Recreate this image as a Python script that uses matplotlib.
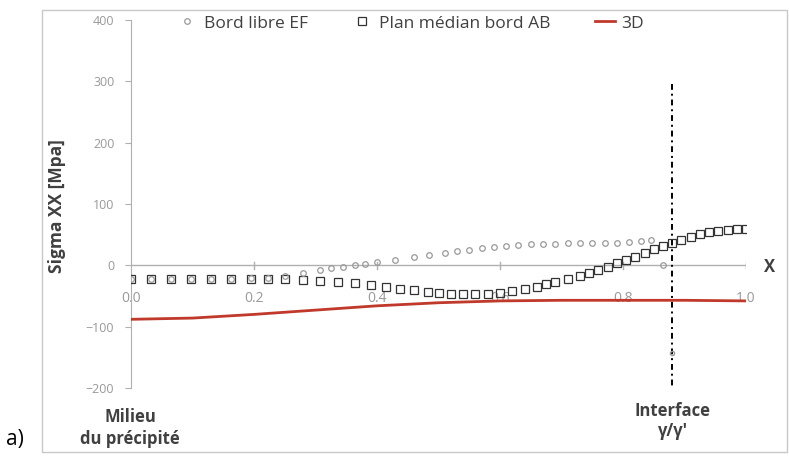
import matplotlib.pyplot as plt
from matplotlib.patches import Rectangle

plt.rcParams['font.family'] = ['Open Sans', 'DejaVu Sans']

# Bord libre EF (free edge)
ef_x = [0.0, 0.033, 0.065, 0.098, 0.13, 0.163, 0.195, 0.223, 0.25, 0.28,
        0.307, 0.325, 0.345, 0.365, 0.38, 0.4, 0.43, 0.46, 0.485, 0.51,
        0.53, 0.55, 0.57, 0.59, 0.61, 0.63, 0.65, 0.67, 0.69, 0.71,
        0.73, 0.75, 0.77, 0.79, 0.81, 0.83, 0.845, 0.865]
ef_y = [-22, -22, -22, -22, -22, -22, -21, -20, -17, -13,
        -8, -5, -3, 0, 2, 5, 9, 13, 17, 20,
        23, 25, 28, 30, 32, 33, 34, 35, 35, 36,
        36, 36, 36, 37, 38, 40, 41, 0]

# Plan median bord AB
ab_x = [0.0, 0.033, 0.065, 0.098, 0.13, 0.163, 0.195, 0.223, 0.25, 0.28,
        0.307, 0.337, 0.364, 0.39, 0.415, 0.437, 0.46, 0.483, 0.5, 0.52,
        0.54, 0.56, 0.58, 0.6, 0.62, 0.64, 0.66, 0.675, 0.69, 0.71,
        0.73, 0.745, 0.76, 0.775, 0.79, 0.805, 0.82, 0.835, 0.85, 0.865,
        0.88, 0.895, 0.91, 0.925, 0.94, 0.955, 0.97, 0.985, 1.0]
ab_y = [-22, -22, -22, -22, -22, -22, -22, -22, -23, -24,
        -25, -27, -29, -32, -35, -38, -41, -43, -45, -46,
        -47, -47, -46, -45, -42, -39, -35, -31, -27, -22,
        -17, -12, -7, -2, 3, 8, 14, 20, 26, 31,
        36, 42, 47, 51, 54, 56, 58, 59, 59]

# 3D
d3_x = [0.0, 0.1, 0.2, 0.3, 0.4, 0.5, 0.6, 0.7, 0.8, 0.9, 1.0]
d3_y = [-88, -86, -80, -73, -66, -61, -58, -57, -57, -57, -58]

# interface line
iface_x = [0.88, 0.88]
iface_y = [295, -200]

x_ticks = [0.0, 0.2, 0.4, 0.6, 0.8, 1.0]
y_ticks = [-200, -100, 0, 100, 200, 300, 400]

fig = plt.figure(figsize=(7.89, 4.57), dpi=100)
ax = fig.add_axes([131/789, 1-388/457, (746-131)/789, (388-20)/457])

ax.plot(iface_x, iface_y, color='black', ls=(0, (3, 2, 1, 2)), lw=1.4)
ax.plot([0.88], [-143], 'o', ms=3, mfc='none', mec='#999999')
ax.plot(d3_x, d3_y, color='#c0392b', lw=2, label='3D', zorder=3)
ax.plot(ab_x, ab_y, 's', ms=6, mfc='none', mec='#333333', mew=0.9,
        label='Plan médian bord AB', zorder=4)
ax.plot(ef_x, ef_y, 'o', ms=4, mfc='none', mec='#999999', mew=0.9,
        label='Bord libre EF', zorder=5)

ax.set_xlim(0, 1.0)
ax.set_ylim(-200, 400)
for s in ['top', 'right', 'bottom']:
    ax.spines[s].set_visible(False)
ax.spines['left'].set_color('#b0b0b0')
ax.spines['left'].set_position(('data', 0))
ax.axhline(0, color='#b0b0b0', lw=1, zorder=1)

ax.set_yticks(y_ticks)
ax.set_xticks(x_ticks)
ax.set_xticklabels(['%.1f' % v for v in x_ticks])
ax.tick_params(axis='y', colors='#b0b0b0', labelcolor='#999999',
               labelsize=9, length=4, pad=8)
ax.tick_params(axis='x', length=0, labelcolor='#999999', labelsize=10, pad=-70)
for xt in x_ticks[1:]:
    ax.plot([xt, xt], [-6, 6], color='#b0b0b0', lw=1, zorder=1)

h, l = ax.get_legend_handles_labels()
order = [2, 1, 0]
ax.legend([h[i] for i in order], [l[i] for i in order], ncol=3, frameon=False,
          loc='upper center', bbox_to_anchor=(0.455, 1.055), fontsize=12.5,
          labelcolor='#404040', handlelength=1.1, columnspacing=2.6,
          handletextpad=0.4)

fig.text(57/789, 1-206/457, 'Sigma XX [Mpa]', rotation=90, fontsize=12.5,
         fontweight='bold', color='#404040', ha='center', va='center')
fig.text(770/789, 1-267/457, 'X', fontsize=12, fontweight='bold',
         color='#404040', ha='center', va='center')
fig.text(130/789, 1-428/457, 'Milieu\ndu précipité', fontsize=12,
         fontweight='bold', color='#404040', ha='center', va='center',
         linespacing=1.25)
fig.text(672/789, 1-421/457, "Interface\nγ/γ'", fontsize=12,
         fontweight='bold', color='#404040', ha='center', va='center',
         linespacing=1.2)
fig.text(15/789, 1-440/457, 'a)', fontsize=15, color='black',
         ha='center', va='center')

fig.patches.append(Rectangle((42/789, 1-452/457), (787-42)/789, (452-10)/457,
                             transform=fig.transFigure, fill=False,
                             edgecolor='#c8c8c8', lw=1))

fig.savefig('out.png', dpi=100)
